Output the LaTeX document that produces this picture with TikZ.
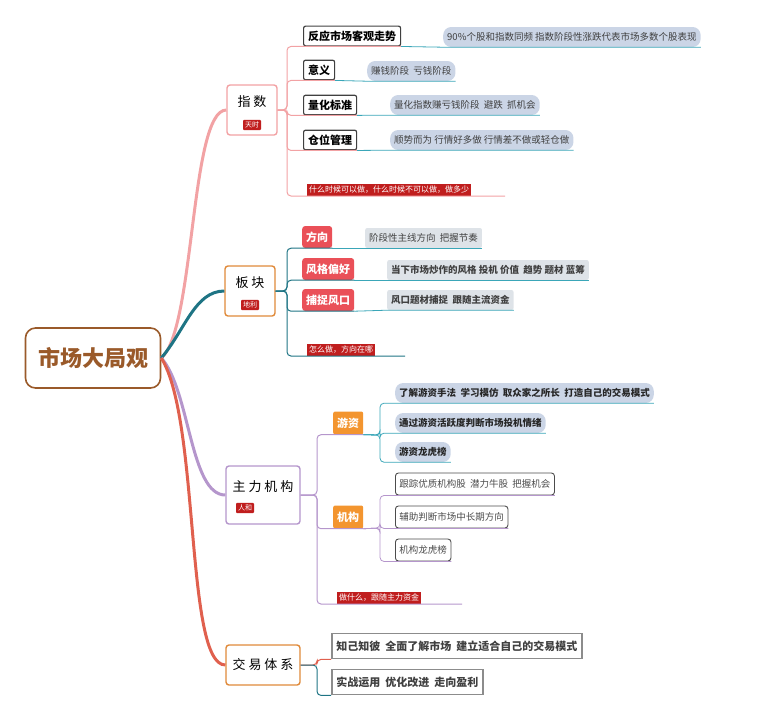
\documentclass[tikz,border=0pt]{standalone}
\usepackage{fontspec}
\setmainfont{Noto Sans CJK SC}
\newcommand\cjkb{\bfseries}
\usetikzlibrary{positioning}
\definecolor{pinkc}{HTML}{F2A2A4}
\definecolor{tealc}{HTML}{1E7484}
\definecolor{purc}{HTML}{B596CC}
\definecolor{redc}{HTML}{E0604E}
\definecolor{brownc}{HTML}{9A5A2A}
\definecolor{orc}{HTML}{E08A3A}
\definecolor{tagred}{HTML}{C01E1E}
\definecolor{pillblue}{HTML}{CBD5E6}
\definecolor{pillgray}{HTML}{DEE3E8}
\definecolor{boxred}{HTML}{EA5058}
\definecolor{boxor}{HTML}{F3952F}
\definecolor{lineb}{HTML}{3AA6B8}
\tikzset{
  topic/.style={draw=#1,line width=1.4pt,rounded corners=3pt,fill=white,minimum width=50pt,minimum height=50pt,inner sep=0pt},
  topictext/.style={font=\fontsize{13}{14}\selectfont,inner sep=0pt},
  tag/.style={fill=tagred,text=white,font=\fontsize{7}{8}\selectfont,inner sep=2pt,rounded corners=1pt},
  outline/.style={draw=black!75,line width=1.2pt,rounded corners=2pt,font=\cjkb\fontsize{11}{12}\selectfont,inner sep=4.5pt,anchor=west},
  pill/.style={fill=#1,rounded corners=8pt,font=\fontsize{9.5}{10}\selectfont,text=black!75,inner sep=4pt,anchor=west,minimum height=20pt},
  redbox/.style={fill=boxred,text=white,rounded corners=3pt,font=\cjkb\fontsize{11}{12}\selectfont,inner sep=4pt,anchor=west,minimum height=22pt},
  orbox/.style={fill=boxor,text=white,rounded corners=2pt,font=\cjkb\fontsize{11}{12}\selectfont,inner sep=4pt,anchor=west,minimum height=23pt},
  whitebox/.style={draw=black!70,line width=0.9pt,rounded corners=3pt,fill=white,font=\fontsize{9.5}{10}\selectfont,text=black!70,inner sep=4pt,anchor=west,minimum height=22pt},
  graybox/.style={draw=black!45,line width=1.8pt,font=\cjkb\fontsize{11}{12}\selectfont,text=black!75,inner sep=4.5pt,anchor=west,minimum height=25pt},
  note/.style={fill=tagred,text=white,font=\fontsize{8}{9}\selectfont,inner sep=2pt,anchor=west},
  root/.style={draw=brownc,line width=1.6pt,rounded corners=10pt,fill=white,minimum width=135pt,minimum height=60pt,font=\cjkb\fontsize{22}{24}\selectfont,text=brownc},
  branch/.style={line width=#1,rounded corners=4pt},
}
\begin{document}
\begin{tikzpicture}[x=1pt,y=-1pt]
\useasboundingbox (0,0) rectangle (760,724);
% root
\node[root] (market) at (93,358) {市场大局观};
% main topics
\node[topic=pinkc] (index) at (252,110) {};
\node[topictext] at (252,102) {指 数};
\node[tag] (indextag) at (252,125) {天时};
\node[topic=orc] (sector) at (250,291) {};
\node[topictext] at (250,283) {板 块};
\node[tag] (sectortag) at (250,305) {地利};
\node[topic=purc,minimum width=74pt,minimum height=58pt] (capital) at (263,495) {};
\node[topictext] at (263,487) {主 力 机 构};
\node[tag] (capitaltag) at (245,508) {人和};
\node[topic=orc,minimum width=74pt,minimum height=40pt] (system) at (263,665) {};
\node[topictext] at (263,665) {交 易 体 系};
\draw[pinkc,line width=3pt] (market.east) .. controls (195,330) and (190,110) .. (index.west);
\draw[tealc,line width=3pt] (market.east) .. controls (185,330) and (195,291) .. (sector.west);
\draw[purc,line width=3pt] (market.east) .. controls (190,390) and (190,495) .. (capital.west);
\draw[redc,line width=3pt] (market.east) .. controls (200,420) and (185,665) .. (system.west);

% index
\node[outline] (trend) at (303,36) {反应市场客观走势};
\node[pill=pillblue] (trendp) at (443,37) {90\%个股和指数同频 指数阶段性涨跌代表市场多数个股表现};
\node[outline] (mean) at (303,70) {意义};
\node[pill=pillblue] (meanp) at (367,71) {赚钱阶段\ \ 亏钱阶段};
\node[outline] (quant) at (303,105) {量化标准};
\node[pill=pillblue] (quantp) at (390,105) {量化指数赚亏钱阶段\ \ 避跌\ \ 抓机会};
\node[outline] (pos) at (303,140) {仓位管理};
\node[pill=pillblue] (posp) at (390,140) {顺势而为 行情好多做 行情差不做或轻仓做};
\node[note] (when) at (307,190) {什么时候可以做，什么时候不可以做，做多少};
\foreach \c/\p in {trend/trendp,mean/meanp,quant/quantp,pos/posp}{
  \draw[pinkc,branch=1pt] (index.east) -- (287,110) |- (\c.south west) -- (\c.south east);
  \draw[lineb,line width=0.8pt] (\c.south east) -- (\p.south west) -- (\p.south east);
}
\draw[pinkc,branch=1pt] (index.east) -- (287,110) |- (when.south west) -- ++(198,0);

% sector
\node[redbox] (dir) at (302,237) {方向};
\node[pill=pillgray,rounded corners=2pt] (dirp) at (365,238) {阶段性主线方向\ \ 把握节奏};
\node[redbox] (style) at (302,269) {风格偏好};
\node[pill=pillgray,rounded corners=2pt] (stylep) at (387,270) {\cjkb 当下市场炒作的风格 投机 价值\ \ 趋势 题材 蓝筹};
\node[redbox] (catch) at (302,300) {捕捉风口};
\node[pill=pillgray,rounded corners=2pt] (catchp) at (387,300) {\cjkb 风口题材捕捉\ \ 跟随主流资金};
\node[note] (how) at (307,350) {怎么做，方向在哪};
\foreach \c/\p in {dir/dirp,style/stylep,catch/catchp}{
  \draw[tealc,branch=1pt] (sector.east) -- (287,291) |- (\c.south west) -- (\c.south east);
  \draw[lineb,line width=0.8pt] (\c.south east) -- (\p.south west) -- (\p.south east);
}
\draw[tealc,branch=1pt] (sector.east) -- (287,291) |- (how.south west) -- ++(98,0);

% capital
\node[orbox] (hot) at (333,423) {游资};
\node[orbox] (inst) at (333,517) {机构};
\node[note] (follow) at (337,598) {做什么，跟随主力资金};
\foreach \c in {hot,inst}
  \draw[purc,branch=1pt] (capital.east) -- (317,495) |- (\c.south west) -- (\c.south east);
\draw[purc,branch=1pt] (capital.east) -- (317,495) |- (follow.south west) -- ++(125,0);
\node[pill=pillblue,font=\cjkb\fontsize{9.5}{10}\selectfont,text=black!85] (hot1) at (395,393) {了解游资手法\ \ 学习模仿\ \ 取众家之所长\ \ 打造自己的交易模式};
\node[pill=pillblue,font=\cjkb\fontsize{9.5}{10}\selectfont,text=black!85] (hot2) at (395,423) {通过游资活跃度判断市场投机情绪};
\node[pill=pillblue,font=\cjkb\fontsize{9.5}{10}\selectfont,text=black!85] (hot3) at (395,452) {游资龙虎榜};
\foreach \c in {hot1,hot2,hot3}
  \draw[lineb,branch=0.8pt] (hot.south east) -- (380,435) |- (\c.south west) -- (\c.south east);
\node[whitebox] (inst1) at (395,484) {跟踪优质机构股\ \ 潜力牛股\ \ 把握机会};
\node[whitebox] (inst2) at (395,517) {辅助判断市场中长期方向};
\node[whitebox] (inst3) at (395,550) {机构龙虎榜};
\foreach \c in {inst1,inst2,inst3}
  \draw[purc,branch=0.8pt] (inst.south east) -- (380,528) |- (\c.south west) -- (\c.south east);

% system
\node[graybox] (know) at (331,646) {知己知彼\ \ 全面了解市场\ \ 建立适合自己的交易模式};
\node[graybox] (apply) at (331,682) {实战运用\ \ 优化改进\ \ 走向盈利};
\draw[redc,branch=1pt] (system.east) -- (317,665) |- (know.south west);
\draw[tealc,branch=1pt] (system.east) -- (317,665) |- (apply.south west);
\end{tikzpicture}
\end{document}
